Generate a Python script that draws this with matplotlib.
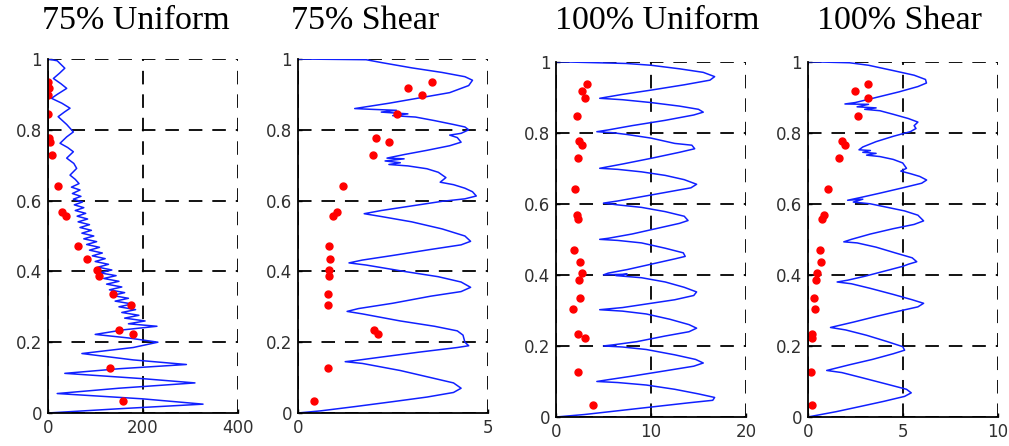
import numpy as np
import matplotlib.pyplot as plt

# ---- data ----
titles = ["75% Uniform", "75% Shear", "100% Uniform", "100% Shear"]
xmax = [400, 5, 20, 10]
xticks = [[0, 200, 400], [0, 5], [0, 10, 20], [0, 5, 10]]
yticks = [0, 0.2, 0.4, 0.6, 0.8, 1]
ytick_labels = ["0", "0.2", "0.4", "0.6", "0.8", "1"]

# 75% Uniform profile
u75_x = [0, 20, 36, 25, 12, 28, 40, 20, 8, 30, 47, 35, 22, 40, 54, 40, 26, 42, 54, 40, 55, 61, 47, 58,
         66, 50, 68, 52, 70, 54, 73, 56, 76, 58, 80, 62, 84, 64, 88, 68, 92, 72, 97, 76, 103, 82, 109, 88,
         115, 94, 121, 100, 128, 106, 135, 110, 144, 118, 150, 124, 156, 130, 162, 136, 170, 142, 178, 150,
         185, 156, 192, 162, 205, 170, 230, 160, 100, 170, 232, 180, 72, 180, 292, 150, 36, 200, 310, 150,
         20, 200, 327, 150, 0]
u75_y = [1.0, 0.995, 0.974, 0.96, 0.945, 0.93, 0.917, 0.9, 0.889, 0.875, 0.861, 0.85, 0.837, 0.815, 0.794,
         0.78, 0.762, 0.75, 0.738, 0.72, 0.705, 0.691, 0.672, 0.66, 0.648, 0.638, 0.63, 0.62, 0.612, 0.604,
         0.596, 0.588, 0.58, 0.572, 0.564, 0.556, 0.548, 0.54, 0.532, 0.524, 0.516, 0.508, 0.5, 0.492, 0.484,
         0.476, 0.468, 0.46, 0.452, 0.444, 0.436, 0.428, 0.42, 0.412, 0.404, 0.396, 0.388, 0.38, 0.372, 0.364,
         0.356, 0.348, 0.34, 0.332, 0.324, 0.316, 0.308, 0.3, 0.292, 0.284, 0.276, 0.268, 0.26, 0.252, 0.245,
         0.235, 0.222, 0.212, 0.2, 0.185, 0.168, 0.15, 0.137, 0.125, 0.112, 0.097, 0.085, 0.07, 0.055, 0.04,
         0.025, 0.012, 0.0]

# 75% Shear profile
s75_x = [0, 1.8, 2.2, 3.0, 3.8, 4.4, 4.6, 4.5, 4.0, 3.2, 2.4, 1.5, 1.9, 2.6, 2.2, 2.9, 2.5, 3.1, 3.6, 4.1,
         4.4, 4.5, 4.3, 4.0, 4.2, 4.3, 4.0, 3.4, 2.8, 2.35, 2.8, 2.3, 2.7, 2.4, 2.9, 3.4, 3.7, 3.9, 3.75, 4.1,
         4.4, 4.6, 4.7, 4.4, 3.8, 3.0, 2.2, 1.75, 2.2, 3.0, 3.8, 4.4, 4.55, 4.3, 3.5, 2.5, 1.7, 1.35, 1.8,
         2.8, 3.7, 4.3, 4.55, 4.3, 3.5, 2.5, 1.6, 1.3, 1.7, 2.7, 3.6, 4.2, 4.35, 4.4, 4.5, 4.2, 3.2, 2.2,
         1.5, 1.25, 1.7, 2.7, 3.5, 4.1, 4.3, 4.1, 3.4, 2.5, 1.5, 0.6, 0]
s75_y = [1.0, 0.998, 0.99, 0.975, 0.962, 0.95, 0.94, 0.925, 0.905, 0.89, 0.875, 0.86, 0.858, 0.855, 0.85,
         0.845, 0.84, 0.836, 0.826, 0.815, 0.808, 0.8, 0.79, 0.785, 0.778, 0.765, 0.755, 0.742, 0.73, 0.72,
         0.718, 0.712, 0.707, 0.702, 0.698, 0.69, 0.68, 0.665, 0.652, 0.645, 0.635, 0.625, 0.613, 0.605, 0.598,
         0.585, 0.572, 0.563, 0.555, 0.54, 0.52, 0.5, 0.485, 0.475, 0.462, 0.445, 0.432, 0.424, 0.418, 0.4,
         0.385, 0.37, 0.355, 0.343, 0.33, 0.31, 0.295, 0.287, 0.28, 0.26, 0.245, 0.232, 0.22, 0.2, 0.19,
         0.185, 0.172, 0.158, 0.148, 0.145, 0.14, 0.12, 0.1, 0.085, 0.07, 0.058, 0.045, 0.032, 0.018, 0.006,
         0.0]

# 100% Uniform profile
u100_x = [0, 7.4, 10, 13, 15.5, 16.7, 16.2, 13.5, 10, 7, 4.6, 7, 10, 13, 15.0, 15.5, 14.5, 11.5, 8, 5.5,
          4.3, 6, 7.5, 10, 12.5, 14.3, 14.6, 13, 10, 7, 4.6, 6.5, 9, 11.5, 13.5, 14.8, 14.2, 11.5, 9, 6.5,
          5.0, 6.5, 9, 11.5, 13.5, 13.9, 13, 10.5, 8, 5.5, 4.6, 6.5, 9, 11.5, 13.4, 13.6, 12.5, 10, 7.5, 5.5,
          5.0, 7.5, 6.3, 9, 11.5, 13.5, 14.8, 14.5, 12.5, 10, 7, 4.6, 7, 9.5, 12, 14, 14.8, 14, 11.5, 8.5,
          6, 5.0, 7, 9.5, 12.5, 14.7, 15.5, 14.5, 11.5, 8, 5.5, 4.3, 6.5, 9.5, 12.5, 15, 16.7, 16.5, 14, 10,
          6, 3, 0]
u100_y = [1.0, 0.995, 0.99, 0.98, 0.97, 0.958, 0.948, 0.935, 0.92, 0.908, 0.897, 0.893, 0.885, 0.875, 0.866,
          0.858, 0.85, 0.835, 0.82, 0.808, 0.803, 0.8, 0.795, 0.785, 0.77, 0.765, 0.755, 0.745, 0.728, 0.712,
          0.7, 0.697, 0.69, 0.68, 0.668, 0.655, 0.645, 0.632, 0.62, 0.608, 0.602, 0.597, 0.59, 0.578, 0.565,
          0.553, 0.545, 0.53, 0.515, 0.503, 0.5, 0.497, 0.49, 0.475, 0.462, 0.452, 0.445, 0.43, 0.415, 0.405,
          0.4, 0.402, 0.398, 0.392, 0.38, 0.365, 0.352, 0.342, 0.33, 0.32, 0.308, 0.302, 0.298, 0.29, 0.275,
          0.26, 0.25, 0.24, 0.228, 0.212, 0.203, 0.2, 0.197, 0.19, 0.175, 0.162, 0.152, 0.143, 0.13, 0.115,
          0.105, 0.1, 0.097, 0.09, 0.078, 0.065, 0.055, 0.047, 0.04, 0.028, 0.016, 0.007, 0.0]

# 100% Shear profile
s100_x = [0, 2.2, 3.2, 4.5, 5.6, 6.2, 6.25, 5.8, 4.8, 3.5, 2.5, 1.96, 3.2, 2.6, 3.6, 3.0, 3.8, 4.5, 5.3,
          5.8, 5.6, 5.7, 5.4, 4.5, 3.6, 2.9, 2.7, 3.3, 2.9, 3.6, 3.1, 3.8, 4.5, 5.0, 5.2, 4.9, 5.4, 5.9, 6.26,
          6.0, 5.0, 3.8, 2.8, 2.1, 2.9, 2.4, 3.3, 4.2, 5.1, 5.8, 6.1, 5.6, 4.5, 3.3, 2.3, 1.9, 2.6, 3.6, 4.6,
          5.5, 5.74, 5.3, 5.0, 4.0, 3.0, 2.1, 1.55, 2.3, 3.3, 4.5, 5.5, 6.1, 5.8, 4.8, 3.6, 2.4, 1.2, 2.0,
          3.1, 4.2, 5.0, 5.1, 4.5, 3.4, 2.2, 1.0, 1.8, 2.9, 4.2, 5.2, 5.45, 5.1, 4.0, 2.8, 1.5, 0.4, 0]
s100_y = [1.0, 0.997, 0.99, 0.975, 0.962, 0.95, 0.94, 0.93, 0.915, 0.898, 0.885, 0.881, 0.88, 0.873, 0.87,
          0.866, 0.862, 0.852, 0.84, 0.83, 0.82, 0.812, 0.803, 0.79, 0.775, 0.76, 0.752, 0.75, 0.745, 0.742,
          0.737, 0.733, 0.725, 0.715, 0.7, 0.692, 0.685, 0.677, 0.667, 0.658, 0.645, 0.63, 0.618, 0.61, 0.613,
          0.605, 0.6, 0.59, 0.58, 0.568, 0.552, 0.542, 0.53, 0.515, 0.5, 0.493, 0.49, 0.478, 0.462, 0.448,
          0.437, 0.43, 0.424, 0.41, 0.396, 0.385, 0.38, 0.375, 0.362, 0.345, 0.33, 0.32, 0.31, 0.298, 0.283,
          0.267, 0.252, 0.245, 0.23, 0.212, 0.198, 0.188, 0.178, 0.162, 0.147, 0.131, 0.125, 0.11, 0.092,
          0.078, 0.068, 0.058, 0.044, 0.03, 0.015, 0.004, 0.0]

# measured points (red)
pts_y = [0.936, 0.917, 0.898, 0.846, 0.776, 0.766, 0.73, 0.641, 0.568, 0.556, 0.471, 0.436, 0.405,
         0.386, 0.336, 0.305, 0.234, 0.223, 0.126, 0.034]
u75_pts = [0, 3, 1, 1, 3, 5, 10, 22, 31, 38, 64, 82, 103, 109, 138, 175, 150, 179, 131, 158]
s75_pts = [3.53, 2.91, 3.26, 2.61, 2.05, 2.39, 1.97, 1.20, 1.03, 0.94, 0.83, 0.85, 0.83, 0.83, 0.81,
           0.81, 2.01, 2.12, 0.81, 0.44]
u100_pts = [3.3, 2.7, 3.05, 2.25, 2.46, 2.7, 2.35, 2.0, 2.25, 2.35, 1.9, 2.5, 2.7, 2.46, 2.5, 1.75,
            2.35, 3.05, 2.35, 3.86]
s100_pts = [3.19, 2.49, 3.19, 2.67, 1.79, 1.96, 1.67, 1.09, 0.86, 0.74, 0.65, 0.68, 0.47, 0.44, 0.33,
            0.39, 0.21, 0.21, 0.16, 0.25]

lines = [(u75_x, u75_y), (s75_x, s75_y), (u100_x, u100_y), (s100_x, s100_y)]
points = [u75_pts, s75_pts, u100_pts, s100_pts]

# layout in pixels of the 1009x446 reference
W, H = 1009.0, 446.0
ax_left = [47.7, 297.7, 556, 807.7]
ax_top = [59, 59, 61.7, 61.7]
ax_bot = [413, 413, 417, 417]
title_x = [136, 365, 657, 899]

fig = plt.figure(figsize=(W / 100, H / 100), dpi=100)

for i in range(4):
    ax = fig.add_axes([ax_left[i] / W, (H - ax_bot[i]) / H, 190 / W, (ax_bot[i] - ax_top[i]) / H])
    lx, ly = lines[i]
    ax.plot(lx, ly, color="#1020ff", linewidth=1.1, solid_joinstyle="round")
    ax.plot(points[i], pts_y, linestyle="None", marker="o", markersize=5,
            color="red", markeredgecolor="red")

    ax.set_xlim(0, xmax[i])
    ax.set_ylim(0, 1)
    ax.set_xticks(xticks[i])
    ax.set_xticklabels([str(v) for v in xticks[i]])
    ax.set_yticks(yticks)
    ax.set_yticklabels(ytick_labels)
    ax.grid(True, color="black", linestyle=(0, (7.5, 5.5)), linewidth=1.3)
    ax.set_axisbelow(True)
    ax.spines["top"].set_visible(False)
    ax.spines["right"].set_visible(False)
    ax.spines["left"].set_linewidth(1.3)
    ax.spines["bottom"].set_linewidth(1.3)
    ax.tick_params(direction="in", length=3, width=1, labelsize=12, labelcolor="#303030", pad=4)

    fig.text(title_x[i] / W, (H - 21) / H, titles[i], ha="center", va="center",
             family="Liberation Serif", fontsize=24.5)

fig.savefig("out.png", dpi=100)
